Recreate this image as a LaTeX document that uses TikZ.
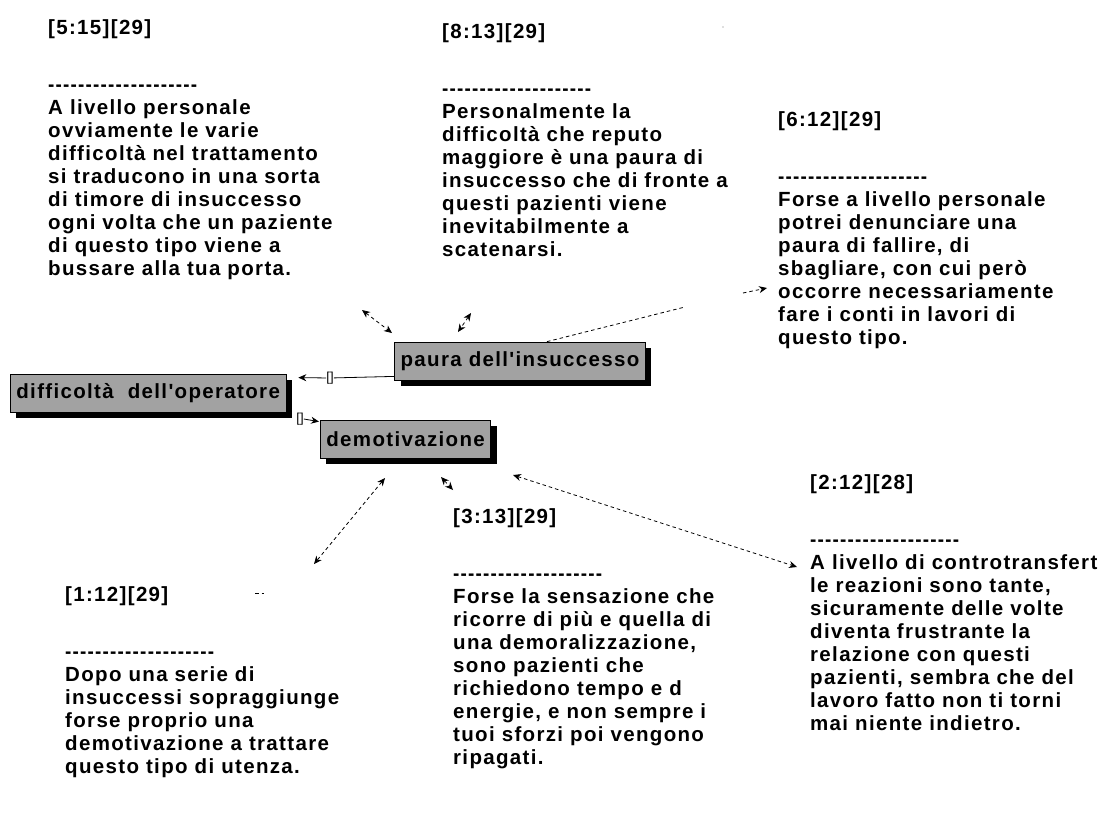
\documentclass[tikz,border=0pt]{standalone}
\usepackage{fontspec}
\newfontfamily\lsfont[LetterSpace=6.5]{Liberation Sans Bold}
\newfontfamily\lblfont{Liberation Sans}
\usetikzlibrary{arrows.meta,shadows}
\definecolor{boxgray}{RGB}{162,162,162}
\newcommand{\dashrow}{\scalebox{0.92}[1]{--------------------}}
\begin{document}
\begin{tikzpicture}[x=1pt,y=-1pt,
  txt/.style={anchor=north west, inner sep=0pt, align=left, text=black,
    font=\lsfont\fontsize{20.5}{23}\selectfont},
  concept/.style={draw=black, line width=0.8pt, fill=boxgray, inner xsep=6pt,
    inner ysep=0pt, minimum height=38pt, text=black,
    font=\lsfont\fontsize{20.5}{23}\selectfont,
    general shadow={shadow xshift=6pt, shadow yshift=-6pt, fill=black}},
  rellabel/.style={inner sep=0pt, fill=white, font=\lblfont\fontsize{13}{13}\selectfont},
  link/.style={line width=0.8pt, draw=black},
  tip/.style={-{Stealth[length=8pt,width=7pt]}},
  comment/.style={line width=0.8pt, draw=black, dash pattern=on 3.5pt off 3pt,
    {Stealth[length=8pt,width=7pt]}-{Stealth[length=8pt,width=7pt]}},
  commentplain/.style={line width=0.8pt, draw=black, dash pattern=on 3.5pt off 3pt}
]
\useasboundingbox[fill=white] (0,0) rectangle (1110,812);

% comment texts
\node[txt] (tA) at (48,18) {\strut[5:15][29]\\[34pt]\dashrow\\
A livello personale\\ovviamente le varie\\difficoltà nel trattamento\\si traducono in una sorta\\di timore di insuccesso\\ogni volta che un paziente\\di questo tipo viene a\\bussare alla tua porta.};

\node[txt] (tB) at (442,22) {\strut[8:13][29]\\[34pt]\dashrow\\
Personalmente la\\difficoltà che reputo\\maggiore è una paura di\\insuccesso che di fronte a\\questi pazienti viene\\inevitabilmente a\\scatenarsi.};

\node[txt] (tC) at (778,110) {\strut[6:12][29]\\[34pt]\dashrow\\
Forse a livello personale\\potrei denunciare una\\paura di fallire, di\\sbagliare, con cui però\\occorre necessariamente\\fare i conti in lavori di\\questo tipo.};

\node[txt] (tD) at (810,473) {\strut[2:12][28]\\[34pt]\dashrow\\
A livello di controtransfert\\le reazioni sono tante,\\sicuramente delle volte\\diventa frustrante la\\relazione con questi\\pazienti, sembra che del\\lavoro fatto non ti torni\\mai niente indietro.};

\node[txt] (tE) at (453,507) {\strut[3:13][29]\\[34pt]\dashrow\\
Forse la sensazione che\\ricorre di più e quella di\\una demoralizzazione,\\sono pazienti che\\richiedono tempo e d\\energie, e non sempre i\\tuoi sforzi poi vengono\\ripagati.};

\node[txt] (tF) at (65,585) {\strut[1:12][29]\\[34pt]\dashrow\\
Dopo una serie di\\insuccessi sopraggiunge\\forse proprio una\\demotivazione a trattare\\questo tipo di utenza.};

% comment links
\coordinate (cA1) at (362,310); \coordinate (cA2) at (392,333);
\coordinate (cB1) at (471,313); \coordinate (cB2) at (458,332);
\coordinate (g1) at (685,307); \coordinate (g2) at (743,293); \coordinate (cC) at (767,288);
\coordinate (cF1) at (385,478); \coordinate (cF2) at (314,564);
\coordinate (cE1) at (441,477); \coordinate (cE2) at (453,490);
\coordinate (cD1) at (513,475); \coordinate (cD2) at (797,567);

\draw[comment] (cA1) -- (cA2);
\draw[comment] (cB1) -- (cB2);
\draw[comment] (cF1) -- (cF2);
\draw[comment] (cE1) -- (cE2);
\draw[comment] (cD1) -- (cD2);

% concept boxes
\node[concept, anchor=west] (diff) at (10,393) {difficoltà~ dell'operatore};
\node[concept] (paura) at (520,361) {paura dell'insuccesso};
\node[concept, anchor=west] (demo) at (320,439) {demotivazione};

\draw[commentplain] ([xshift=27pt]paura.north) -- (g1);
\draw[commentplain, tip] (g2) -- (cC);

% relations
\node[rellabel] (r1) at (330,378) {[]};
\draw[link] ([yshift=4pt]paura.south west) -- (r1);
\draw[link, tip] (r1) -- ([xshift=12pt,yshift=-4pt]diff.north east);
\node[rellabel] (r2) at (300,419) {[]};
\draw[link, tip] (r2.east) -- ([xshift=-1pt,yshift=-2pt]demo.north west);

% stray marks
\draw[commentplain] (255,593) -- (264,593);
\fill[gray!50] (723,27) circle (0.8);
\end{tikzpicture}
\end{document}
